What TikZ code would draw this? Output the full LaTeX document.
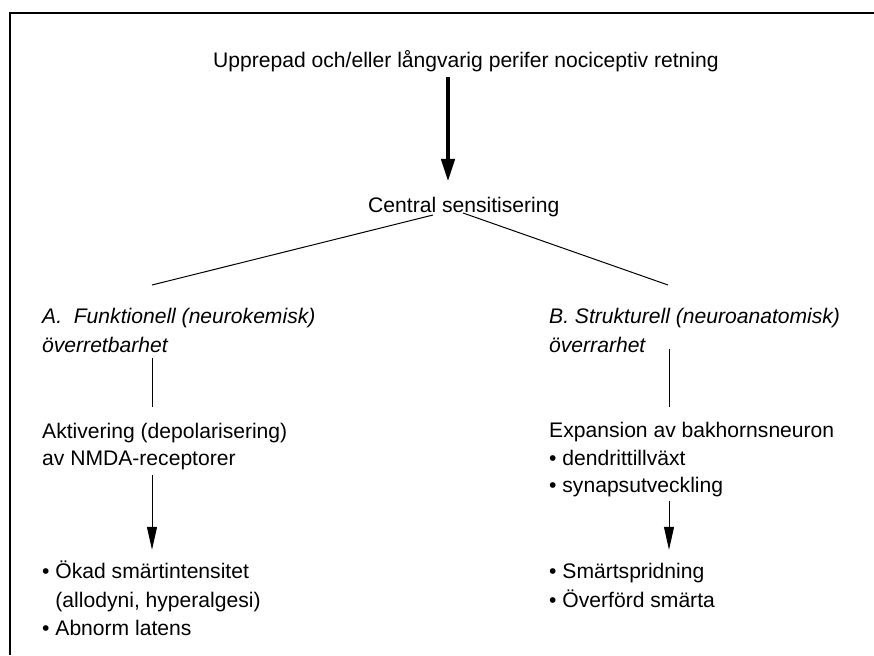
\documentclass[tikz,border=0pt]{standalone}
\usepackage{fontspec}
\setmainfont{Liberation Sans}
\usetikzlibrary{arrows.meta}

\tikzset{
  txt/.style={anchor=base west,inner sep=0pt,text height=15pt,text depth=4.5pt,
    font=\fontsize{21.1}{28}\selectfont},
  itxt/.style={txt,font=\fontsize{21.1}{28}\selectfont\itshape},
  bigarrow/.style={line width=4.5pt,-{Triangle[length=23pt,width=13pt]}},
  smallarrow/.style={line width=1pt,-{Triangle[length=23pt,width=10pt]}},
  link/.style={line width=1pt}
}

\begin{document}
\begin{tikzpicture}[x=1pt,y=-1pt]
\useasboundingbox (0,0) rectangle (874,655);
% frame
\draw[line width=1.6pt] (874,13) -- (10,13) -- (10,655);

% columns of the connectors
\coordinate (ax) at (448,0);
\coordinate (lx) at (152,0);
\coordinate (rx) at (669,0);
\coordinate (lsplit) at (152,285);
\coordinate (rsplit) at (668,285);

\node[txt] (start) at (213,68) {Upprepad och/eller långvarig perifer nociceptiv retning};
\node[txt] (central) at (368,212) {Central sensitisering};

% A: left branch
\node[itxt] (headA) at (42,323) {A.~~Funktionell (neurokemisk)};
\node[itxt] (headA2) at (42,352) {överretbarhet};
\node[txt] (actA) at (42,438) {Aktivering (depolarisering)};
\node[txt] (actA2) at (42,465) {av NMDA-receptorer};
\node[txt] (resA1) at (42,578) {• Ökad smärtintensitet};
\node[txt] (resA2) at (42,607) {\phantom{• }(allodyni, hyperalgesi)};
\node[txt] (resA3) at (42,635) {• Abnorm latens};

% B: right branch
\node[itxt] (headB) at (549,323) {B. Strukturell (neuroanatomisk)};
\node[itxt] (headB2) at (549,352) {överrarhet};
\node[txt] (expB) at (549,437) {Expansion av bakhornsneuron};
\node[txt] (expB2) at (549,465) {• dendrittillväxt};
\node[txt] (expB3) at (549,492) {• synapsutveckling};
\node[txt] (resB1) at (549,578) {• Smärtspridning};
\node[txt] (resB2) at (549,607) {• Överförd smärta};

% connectors
\draw[bigarrow,shorten <=4.5pt,shorten >=15pt] (start.south -| ax) -- (central.north -| ax);
\draw[link] ([xshift=65pt,yshift=-3pt]central.base west) -- (lsplit);
\draw[link] ([xshift=95pt,yshift=-1pt]central.base west) -- (rsplit);
\draw[link,shorten <=1.5pt,shorten >=16pt] (headA2.south -| lx) -- (actA.north -| lx);
\draw[link,shorten <=2.25pt,shorten >=15pt] (headB2.east -| rx) -- (expB.north -| rx);
\draw[smallarrow,shorten <=5.5pt,shorten >=13pt] (actA2.south -| lx) -- (resA1.north -| lx);
\draw[smallarrow,shorten <=4.5pt,shorten >=13pt] (expB3.south -| rx) -- (resB1.north -| rx);
\end{tikzpicture}
\end{document}
